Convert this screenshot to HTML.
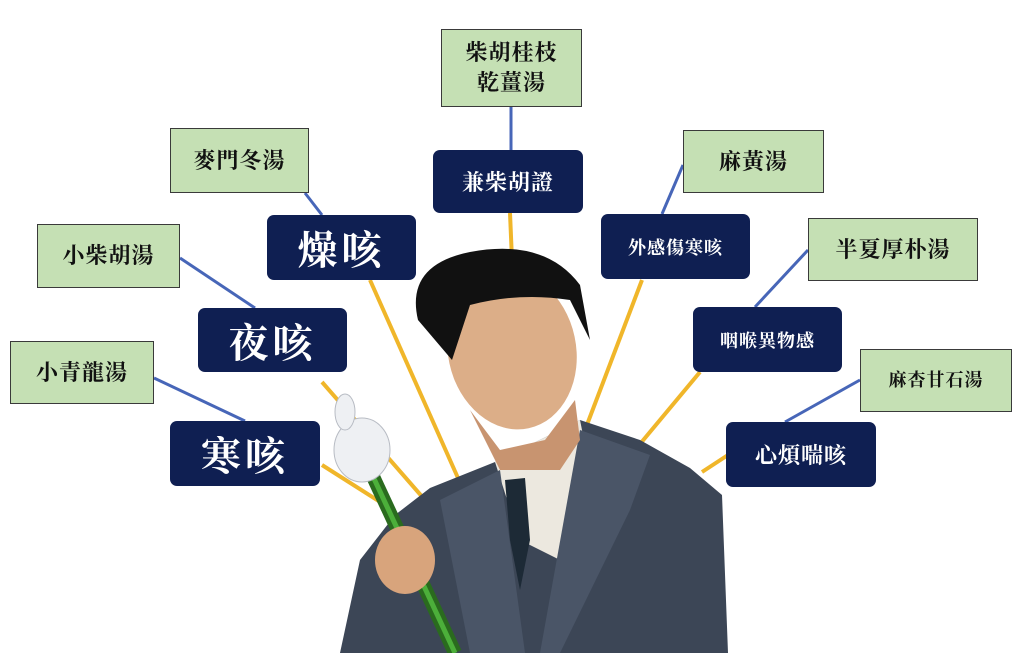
<!DOCTYPE html>
<html><head><meta charset="utf-8"><style>
body{margin:0;background:#fff;width:1024px;height:653px;overflow:hidden;position:relative;font-family:"Liberation Serif","Noto Serif CJK SC","Noto Sans CJK TC",serif}
.g{position:absolute;background:#c5e0b4;border:1.5px solid #3a3a3a;box-sizing:border-box;display:flex;align-items:center;justify-content:center;text-align:center;color:#111;font-size:22px;line-height:1.35;letter-spacing:1px;font-weight:bold}
.n{position:absolute;background:#0f1f52;border-radius:7px;box-sizing:border-box;display:flex;align-items:center;justify-content:center;color:#fff;letter-spacing:1px;font-weight:bold}
svg{position:absolute;left:0;top:0}
</style></head><body>
<svg width="1024" height="653">
<g stroke="#4766b8" stroke-width="3">
<line x1="511" y1="107" x2="511" y2="150"/>
<line x1="305" y1="193" x2="322" y2="215"/>
<line x1="683" y1="165" x2="662" y2="214"/>
<line x1="180" y1="258" x2="255" y2="308"/>
<line x1="808" y1="250" x2="755" y2="307"/>
<line x1="154" y1="378" x2="245" y2="421"/>
<line x1="860" y1="380" x2="785" y2="422"/>
</g>
<g stroke="#f0b62a" stroke-width="4">
<line x1="370" y1="280" x2="458" y2="478"/>
<line x1="510" y1="213" x2="512" y2="260"/>
<line x1="642" y1="280" x2="585" y2="430"/>
<line x1="700" y1="372" x2="635" y2="450"/>
<line x1="728" y1="455" x2="702" y2="472"/>
<line x1="322" y1="382" x2="425" y2="500"/>
<line x1="322" y1="465" x2="385" y2="505"/>
</g>
<!-- suit -->
<path d="M340 653 L360 560 L395 515 L430 488 L495 462 L580 420 L640 440 L690 468 L722 495 L728 653 Z" fill="#3c4656"/>
<path d="M495 462 L580 420 L600 520 L560 560 L520 540 Z" fill="#ece8df"/>
<path d="M505 480 L525 478 L530 540 L520 590 L510 540 Z" fill="#1d2a36"/>
<path d="M440 500 L500 470 L525 653 L470 653 Z" fill="#4a5567"/>
<path d="M580 430 L650 455 L630 510 L560 653 L540 653 Z" fill="#4a5567"/>
<!-- head -->
<path d="M470 410 L500 450 L545 440 L575 400 L580 440 L560 470 L500 470 Z" fill="#c89470"/>
<ellipse cx="512" cy="350" rx="64" ry="80" transform="rotate(-12 512 350)" fill="#dcae88"/>
<path d="M418 320 Q405 265 470 252 Q545 238 580 285 L590 340 L570 300 Q520 292 470 305 L452 360 Z" fill="#111"/>
<!-- stick & glove -->
<line x1="370" y1="470" x2="455" y2="653" stroke="#2a6b1e" stroke-width="14"/>
<line x1="370" y1="470" x2="455" y2="653" stroke="#4caf3a" stroke-width="5"/>
<ellipse cx="362" cy="450" rx="28" ry="32" fill="#eef0f3" stroke="#b8bcc4"/>
<ellipse cx="345" cy="412" rx="10" ry="18" fill="#eef0f3" stroke="#b8bcc4"/>
<ellipse cx="405" cy="560" rx="30" ry="34" fill="#d8a47c"/>
</svg>
<div class="g" style="left:441px;top:29px;width:141px;height:78px">柴胡桂枝<br>乾薑湯</div>
<div class="g" style="left:170px;top:128px;width:139px;height:65px">麥門冬湯</div>
<div class="g" style="left:683px;top:130px;width:141px;height:63px">麻黃湯</div>
<div class="g" style="left:37px;top:224px;width:143px;height:64px">小柴胡湯</div>
<div class="g" style="left:808px;top:218px;width:170px;height:63px">半夏厚朴湯</div>
<div class="g" style="left:10px;top:341px;width:144px;height:63px">小青龍湯</div>
<div class="g" style="left:860px;top:349px;width:152px;height:63px;font-size:18px">麻杏甘石湯</div>
<div class="n" style="left:433px;top:150px;width:150px;height:63px;font-size:22px">兼柴胡證</div>
<div class="n" style="left:267px;top:215px;width:149px;height:65px;font-size:40px;letter-spacing:4px">燥咳</div>
<div class="n" style="left:601px;top:214px;width:149px;height:65px;font-size:18px">外感傷寒咳</div>
<div class="n" style="left:198px;top:308px;width:149px;height:64px;font-size:40px;letter-spacing:4px">夜咳</div>
<div class="n" style="left:693px;top:307px;width:149px;height:65px;font-size:18px">咽喉異物感</div>
<div class="n" style="left:170px;top:421px;width:150px;height:65px;font-size:40px;letter-spacing:4px">寒咳</div>
<div class="n" style="left:726px;top:422px;width:150px;height:65px;font-size:22px">心煩喘咳</div>
</body></html>
